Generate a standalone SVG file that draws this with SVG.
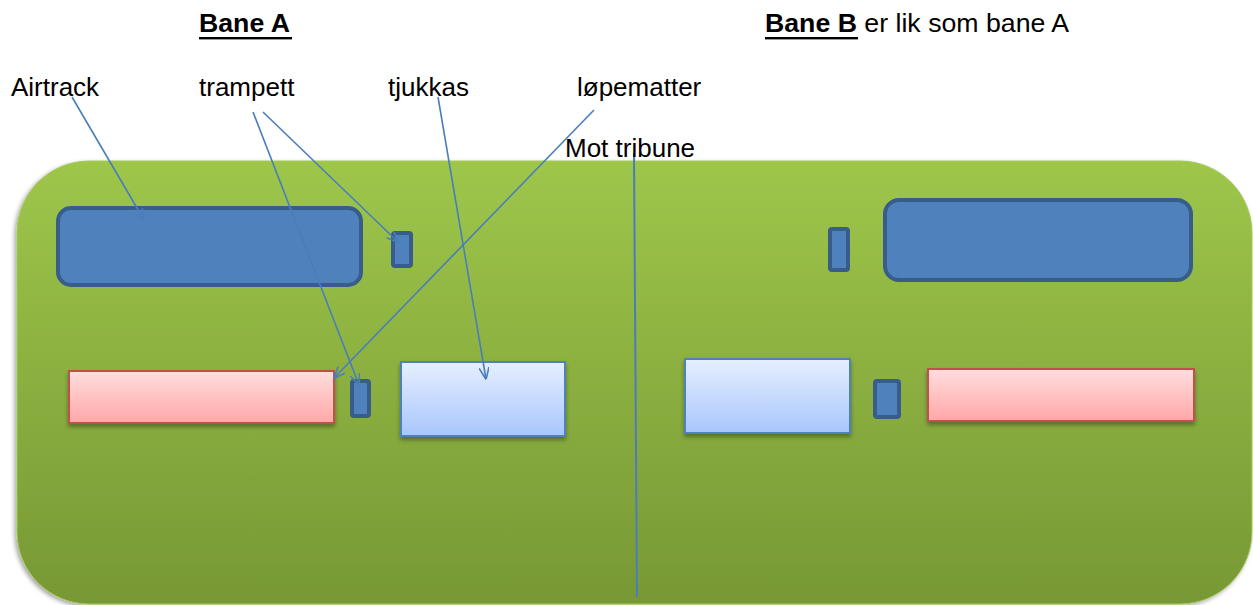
<svg xmlns="http://www.w3.org/2000/svg" width="1253" height="605" viewBox="0 0 1253 605">
<defs>
<linearGradient id="gField" x1="0" y1="0" x2="0" y2="1">
<stop offset="0" stop-color="#9ec64a"/>
<stop offset="1" stop-color="#779835"/>
</linearGradient>
<linearGradient id="gPink" x1="0" y1="0" x2="0" y2="1">
<stop offset="0" stop-color="#ffdede"/>
<stop offset="1" stop-color="#ffa7a7"/>
</linearGradient>
<linearGradient id="gLight" x1="0" y1="0" x2="0" y2="1">
<stop offset="0" stop-color="#e6efff"/>
<stop offset="1" stop-color="#a8c6fc"/>
</linearGradient>
<filter id="shField" x="-5%" y="-5%" width="110%" height="110%">
<feDropShadow dx="-2" dy="2" stdDeviation="2" flood-color="#000" flood-opacity="0.35"/>
</filter>
<filter id="shBox" x="-10%" y="-10%" width="120%" height="130%">
<feDropShadow dx="0" dy="3" stdDeviation="2" flood-color="#000" flood-opacity="0.35"/>
</filter>
<marker id="arr" viewBox="0 0 12 10" refX="11.5" refY="5" markerWidth="12" markerHeight="10" markerUnits="userSpaceOnUse" orient="auto">
<path d="M0,0 L12,5 L0,10" fill="none" stroke="#4a7ebb" stroke-width="1.6"/>
</marker>
<style>
.t{font-family:"Liberation Sans",Arial,sans-serif;font-size:26px;fill:#000}
.h{font-size:26.7px}
.b{font-weight:bold}
.air{fill:#4f81bd;stroke:#385d8a;stroke-width:4}
.tr{fill:#4f81bd;stroke:#385d8a;stroke-width:4}
.lp{fill:url(#gPink);stroke:#c0504d;stroke-width:2;filter:url(#shBox)}
.tj{fill:url(#gLight);stroke:#4f81bd;stroke-width:2;filter:url(#shBox)}
.c{stroke:#4a7ebb;stroke-width:1.6;fill:none}
</style>
</defs>
<rect width="1253" height="605" fill="#fff"/>
<g id="field">
<rect x="17" y="161" width="1235" height="443" rx="72" fill="url(#gField)" stroke="#a5c95a" stroke-width="1" filter="url(#shField)"/>
</g>
<g id="airtrack-a"><rect class="air" x="58" y="208" width="303" height="77" rx="13"/></g>
<g id="trampett-a1"><rect class="tr" x="393" y="233" width="18" height="33" rx="2"/></g>
<g id="lopematter-a"><rect class="lp" x="69" y="371" width="265" height="52"/></g>
<g id="trampett-a2"><rect class="tr" x="352" y="381" width="17" height="35" rx="2"/></g>
<g id="tjukkas-a"><rect class="tj" x="401" y="362" width="164" height="74"/></g>
<g id="trampett-b1"><rect class="tr" x="830" y="229" width="18" height="41" rx="2"/></g>
<g id="airtrack-b"><rect class="air" x="885" y="200" width="306" height="80" rx="14"/></g>
<g id="tjukkas-b"><rect class="tj" x="685" y="359" width="165" height="74"/></g>
<g id="trampett-b2"><rect class="tr" x="875" y="381" width="24" height="36" rx="2"/></g>
<g id="lopematter-b"><rect class="lp" x="928" y="369" width="266" height="52"/></g>
<g id="connectors">
<line class="c" x1="72" y1="97" x2="144" y2="220" marker-end="url(#arr)"/>
<line class="c" x1="263" y1="112" x2="398" y2="242" marker-end="url(#arr)"/>
<line class="c" x1="253" y1="112" x2="359" y2="385" marker-end="url(#arr)"/>
<line class="c" x1="594" y1="110" x2="334" y2="378" marker-end="url(#arr)"/>
<line class="c" x1="438" y1="97" x2="486" y2="379" marker-end="url(#arr)"/>
<line class="c" x1="634" y1="153" x2="637" y2="597" style="stroke-width:2"/>
</g>
<g id="labels">
<text class="t h b" x="199" y="32">Bane A</text>
<rect x="199" y="37" width="93" height="2.4" fill="#000"/>
<text class="t h" x="765" y="32"><tspan class="b">Bane B</tspan> er lik som bane A</text>
<rect x="765" y="37" width="93" height="2.4" fill="#000"/>
<text class="t" x="11" y="96">Airtrack</text>
<text class="t" x="199" y="96">trampett</text>
<text class="t" x="388" y="96">tjukkas</text>
<text class="t" x="577" y="96">løpematter</text>
<text class="t" x="565" y="157">Mot tribune</text>
</g>
</svg>
